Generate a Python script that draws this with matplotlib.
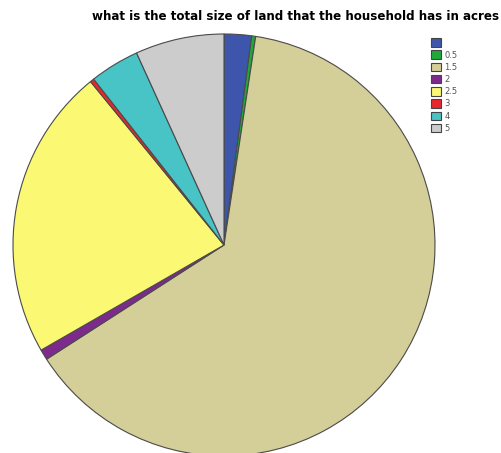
import matplotlib
matplotlib.use('Agg')
import matplotlib.pyplot as plt
from matplotlib.patches import Patch

# land size categories (acres) and share of households (%)
categories = ['', '0.5', '1.5', '2', '2.5', '3', '4', '5']
shares = [2.1, 0.3, 63.5, 0.8, 22.4, 0.3, 3.8, 6.8]
colors = ['#3d56ab', '#20a83a', '#d4ce99', '#7e2a8c', '#fbf873', '#e8262b', '#48c3c6', '#cccccc']

title = 'what is the total size of land that the household has in acres'

W, H = 501, 453
fig = plt.figure(figsize=(W / 100, H / 100), dpi=100)

# pie centre at (224, 245) px from top-left, radius 211 px
cx, cy, r = 224, 245, 211
ax = fig.add_axes([(cx - r) / W, (H - cy - r) / H, 2 * r / W, 2 * r / H])
ax.pie(shares, colors=colors, startangle=90, counterclock=False, radius=1,
       wedgeprops={'edgecolor': '#4a4a4a', 'linewidth': 0.8})
ax.set_xlim(-1, 1)
ax.set_ylim(-1, 1)
ax.set_aspect('auto')
ax.axis('off')

fig.text(296 / W, 1 - 17 / H, title, ha='center', va='center',
         fontsize=8.6, fontweight='bold')

handles = [Patch(facecolor=c, edgecolor='#444444', linewidth=0.8) for c in colors]
fig.legend(handles, categories, loc='upper left', bbox_to_anchor=(427 / W, 1 - 34 / H),
           frameon=False, fontsize=6, handlelength=1.2, handleheight=1.2,
           handletextpad=0.4, labelspacing=0.38, borderpad=0, labelcolor='#555555')

plt.savefig('out.png', dpi=100)
